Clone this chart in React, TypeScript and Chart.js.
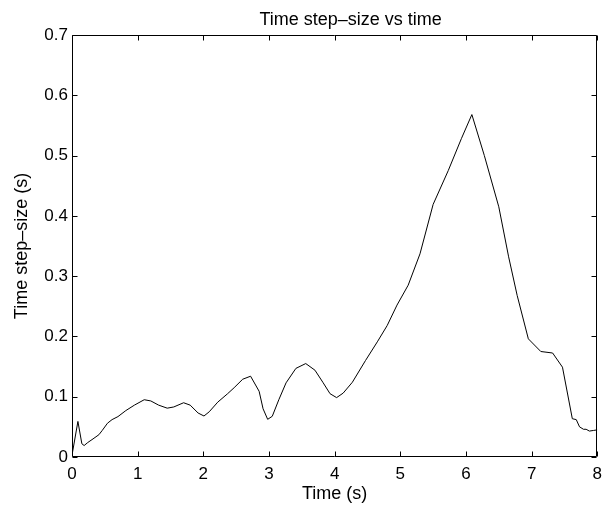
import React, { useEffect, useRef } from "react";
import { Chart, registerables } from "chart.js";

Chart.register(...registerables);

const timeS: number[] = [
  0, 0.09, 0.15, 0.185, 0.24, 0.32, 0.41, 0.46, 0.54, 0.61, 0.7, 0.82, 0.95, 1.1, 1.2, 1.32, 1.45, 1.55,
  1.7, 1.8, 1.92, 2.01, 2.09, 2.22, 2.37, 2.47, 2.6, 2.72, 2.85, 2.91, 2.98, 3.05, 3.15, 3.26, 3.41, 3.56,
  3.7, 3.82, 3.93, 4.03, 4.13, 4.27, 4.47, 4.65, 4.8, 4.95, 5.12, 5.3, 5.5, 5.73, 5.93, 6.09, 6.28, 6.5,
  6.65, 6.78, 6.95, 7.14, 7.32, 7.47, 7.62, 7.68, 7.73, 7.79, 7.83, 7.88, 7.94, 8.0,
];
const stepSize: number[] = [
  0.003, 0.059, 0.022, 0.019, 0.024, 0.03, 0.037, 0.044, 0.056, 0.062, 0.067, 0.077, 0.086, 0.095, 0.093,
  0.086, 0.081, 0.083, 0.09, 0.086, 0.073, 0.068, 0.075, 0.091, 0.105, 0.115, 0.129, 0.134, 0.109, 0.08,
  0.0625, 0.0675, 0.095, 0.123, 0.147, 0.155, 0.144, 0.124, 0.105, 0.0985, 0.106, 0.124, 0.16, 0.191,
  0.218, 0.252, 0.285, 0.337, 0.419, 0.475, 0.528, 0.568, 0.5, 0.415, 0.332, 0.268, 0.196, 0.175, 0.1725,
  0.149, 0.0635, 0.062, 0.05, 0.046, 0.046, 0.043, 0.044, 0.045,
];

const chartTitle = "Time step\u2013size vs time";
const xTitle = "Time (s)";
const yTitle = "Time step\u2013size (s)";
const xRange = [0, 8];
const yRange = [0, 0.7];

const FONT = "'Liberation Sans', Arial, Helvetica, sans-serif";

const framePlugin = {
  id: "matlabFrame",
  afterDraw(chart: any) {
    const { ctx, chartArea: a, scales } = chart;
    const x = scales.x;
    const y = scales.y;
    const L = Math.round(a.left) + 0.5;
    const R = Math.round(a.right) - 0.5;
    const T = Math.round(a.top) + 0.5;
    const B = Math.round(a.bottom) - 0.5;
    ctx.save();
    ctx.strokeStyle = "#000";
    ctx.lineWidth = 1;
    ctx.beginPath();
    ctx.rect(L, T, R - L, B - T);
    const tl = 5;
    x.ticks.forEach((t: any) => {
      const px = Math.round(x.getPixelForValue(t.value)) + 0.5;
      ctx.moveTo(px, B);
      ctx.lineTo(px, B - tl);
      ctx.moveTo(px, T);
      ctx.lineTo(px, T + tl);
    });
    y.ticks.forEach((t: any) => {
      const py = Math.round(y.getPixelForValue(t.value)) + 0.5;
      ctx.moveTo(L, py);
      ctx.lineTo(L + tl, py);
      ctx.moveTo(R, py);
      ctx.lineTo(R - tl, py);
    });
    ctx.stroke();
    // title
    ctx.fillStyle = "#000";
    ctx.font = `18px ${FONT}`;
    ctx.textAlign = "center";
    ctx.textBaseline = "alphabetic";
    ctx.fillText(chartTitle, (a.left + a.right) / 2 + 16, 25);
    ctx.restore();
  },
};

export default function App() {
  const ref = useRef<HTMLCanvasElement | null>(null);
  useEffect(() => {
    if (!ref.current) return;
    const chart = new Chart(ref.current, {
      type: "line",
      data: {
        datasets: [
          {
            data: timeS.map((t, i) => ({ x: t, y: stepSize[i] })),
            borderColor: "#000",
            borderWidth: 1,
            pointRadius: 0,
            tension: 0,
            fill: false,
          },
        ],
      },
      options: {
        animation: false,
        responsive: false,
        devicePixelRatio: 1,
        layout: { padding: { top: 35, right: 5, left: 0, bottom: 0 } },
        plugins: { legend: { display: false }, tooltip: { enabled: false }, title: { display: false } },
        scales: {
          x: {
            type: "linear",
            min: xRange[0],
            max: xRange[1],
            grid: { display: false, drawTicks: false },
            border: { display: false },
            ticks: {
              stepSize: 1,
              padding: 7,
              color: "#000",
              maxRotation: 0,
              font: { family: FONT, size: 17 },
            },
            title: {
              display: true,
              text: xTitle,
              color: "#000",
              font: { family: FONT, size: 18 },
              padding: { top: 0, bottom: 1 },
            },
            afterFit(scale: any) {
              scale.height = 49;
            },
          },
          y: {
            type: "linear",
            min: yRange[0],
            max: yRange[1],
            grid: { display: false, drawTicks: false },
            border: { display: false },
            ticks: {
              stepSize: 0.1,
              padding: 4,
              color: "#000",
              font: { family: FONT, size: 17 },
              callback: (v: any) => String(Math.round(Number(v) * 10) / 10),
            },
            title: {
              display: true,
              text: yTitle,
              color: "#000",
              font: { family: FONT, size: 18 },
              padding: { top: 11, bottom: 0 },
            },
            afterFit(scale: any) {
              scale.width = 72;
            },
          },
        },
      },
      plugins: [framePlugin],
    });
    return () => chart.destroy();
  }, []);
  return (
    <div style={{ position: "fixed", left: 0, top: 0, width: 609, height: 506, background: "#fff" }}>
      <canvas ref={ref} width={609} height={506} style={{ width: 609, height: 506 }} />
    </div>
  );
}
